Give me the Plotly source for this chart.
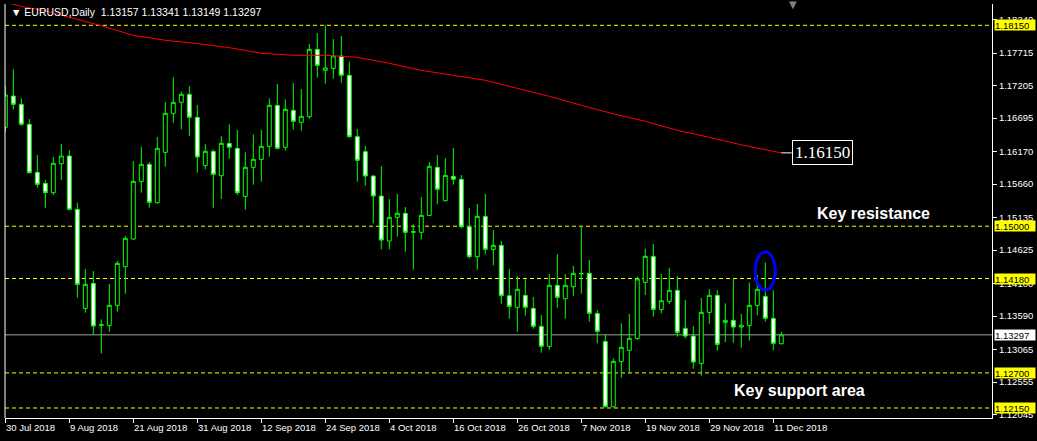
import numpy as np
import plotly.graph_objects as go

# ---------------- data ----------------
tick_labels = ["30 Jul 2018", "9 Aug 2018", "21 Aug 2018", "31 Aug 2018", "12 Sep 2018",
               "24 Sep 2018", "4 Oct 2018", "16 Oct 2018", "26 Oct 2018", "7 Nov 2018",
               "19 Nov 2018", "29 Nov 2018", "11 Dec 2018"]
tick_index = [0, 8, 16, 24, 32, 40, 48, 56, 64, 72, 80, 88, 96]

opens = [1.16550, 1.17041, 1.16911, 1.16597, 1.15845, 1.15672, 1.15526, 1.15980, 1.16101, 1.15264,
         1.13712, 1.14104, 1.13445, 1.13445, 1.13759, 1.14365, 1.14799, 1.15703, 1.15970, 1.15369,
         1.16158, 1.16770, 1.16942, 1.17068, 1.16707, 1.15954, 1.16174, 1.15792, 1.16299, 1.16221,
         1.15468, 1.15923, 1.16048, 1.16252, 1.16895, 1.16237, 1.16817, 1.16629, 1.16717, 1.17773,
         1.17444, 1.17475, 1.17669, 1.17366, 1.16404, 1.16169, 1.15787, 1.15473, 1.14768, 1.15139,
         1.15202, 1.14904, 1.14904, 1.15170, 1.15923, 1.15400, 1.15782, 1.15735, 1.14992, 1.14522,
         1.15154, 1.14637, 1.14700, 1.13910, 1.13728, 1.13916, 1.13712, 1.13430, 1.13116, 1.14073,
         1.13863, 1.14052, 1.14261, 1.14261, 1.13633, 1.13194, 1.12170, 1.12881, 1.13053, 1.13241,
         1.14119, 1.14527, 1.13696, 1.13822, 1.13994, 1.13398, 1.13278, 1.12849, 1.13649, 1.13916,
         1.13492, 1.13524, 1.13419, 1.13445, 1.13759, 1.13900, 1.13555, 1.13157]
highs = [1.17198, 1.17460, 1.17005, 1.16681, 1.16116, 1.15724, 1.16085, 1.16289, 1.16195, 1.15369,
         1.14329, 1.14297, 1.13539, 1.14093, 1.14454, 1.14846, 1.16022, 1.16247, 1.16007, 1.16399,
         1.16947, 1.17334, 1.17109, 1.17198, 1.16900, 1.16289, 1.16205, 1.16414, 1.16597, 1.16508,
         1.16158, 1.16440, 1.16508, 1.17005, 1.17230, 1.16989, 1.17245, 1.17151, 1.17857, 1.18029,
         1.18150, 1.17935, 1.17982, 1.17580, 1.16524, 1.16257, 1.15803, 1.15944, 1.15426, 1.15505,
         1.15301, 1.15029, 1.15458, 1.16007, 1.16116, 1.16069, 1.16226, 1.15803, 1.15285, 1.15348,
         1.15505, 1.14940, 1.14768, 1.14329, 1.14219, 1.14172, 1.13890, 1.13607, 1.14250, 1.14564,
         1.14250, 1.14376, 1.15000, 1.14470, 1.13686, 1.13309, 1.12928, 1.13477, 1.13623, 1.14208,
         1.14648, 1.14721, 1.14250, 1.14349, 1.14219, 1.13842, 1.13435, 1.13874, 1.14015, 1.13999,
         1.13790, 1.14177, 1.13623, 1.14119, 1.14235, 1.14433, 1.13994, 1.13341]
lows = [1.16482, 1.16832, 1.16576, 1.15829, 1.15604, 1.15290, 1.15489, 1.15724, 1.15254, 1.13879,
        1.13644, 1.13294, 1.13006, 1.13346, 1.13660, 1.13942, 1.14789, 1.15526, 1.15290, 1.15353,
        1.15933, 1.16623, 1.16519, 1.16414, 1.15839, 1.15892, 1.15290, 1.15426, 1.16059, 1.15489,
        1.15259, 1.15651, 1.15698, 1.16090, 1.16205, 1.16184, 1.16514, 1.16498, 1.16686, 1.17329,
        1.17235, 1.17313, 1.17251, 1.16388, 1.15698, 1.15635, 1.15045, 1.14637, 1.14637, 1.14836,
        1.14600, 1.14318, 1.14789, 1.15160, 1.15343, 1.15390, 1.15651, 1.14966, 1.14491, 1.14318,
        1.14559, 1.14386, 1.13785, 1.13550, 1.13346, 1.13597, 1.13393, 1.13017, 1.13064, 1.13722,
        1.13550, 1.13910, 1.13942, 1.13503, 1.13163, 1.12159, 1.12159, 1.12625, 1.12693, 1.13215,
        1.13921, 1.13581, 1.13633, 1.13780, 1.13268, 1.13241, 1.12766, 1.12656, 1.13471, 1.13048,
        1.13184, 1.13174, 1.13095, 1.13205, 1.13602, 1.13503, 1.13053, 1.13149]
closes = [1.17057, 1.16911, 1.16597, 1.15839, 1.15656, 1.15526, 1.15986, 1.16101, 1.15264, 1.14088,
          1.14088, 1.13435, 1.13456, 1.13759, 1.14417, 1.14810, 1.15703, 1.15970, 1.15374, 1.16221,
          1.16770, 1.16942, 1.17068, 1.16707, 1.16085, 1.16174, 1.15813, 1.16299, 1.16237, 1.15526,
          1.15923, 1.16048, 1.16252, 1.16895, 1.16221, 1.16832, 1.16644, 1.16723, 1.17773, 1.17522,
          1.17481, 1.17669, 1.17366, 1.16404, 1.16033, 1.15787, 1.15473, 1.14783, 1.15139, 1.15202,
          1.14904, 1.14914, 1.15170, 1.15939, 1.15578, 1.15797, 1.15735, 1.14992, 1.14522, 1.15154,
          1.14637, 1.14700, 1.13910, 1.13743, 1.14010, 1.13728, 1.13430, 1.13116, 1.14073, 1.13884,
          1.14073, 1.14261, 1.14255, 1.13633, 1.13351, 1.12170, 1.12881, 1.13100, 1.13241, 1.14172,
          1.14527, 1.13696, 1.13832, 1.13994, 1.13335, 1.13278, 1.12870, 1.13649, 1.13916, 1.13147,
          1.13524, 1.13419, 1.13445, 1.13759, 1.14010, 1.13555, 1.13163, 1.13297]

ma_index = [0, 2, 5, 8, 12, 16, 20, 24, 28, 32, 36, 40, 44, 48, 52, 56, 60, 64, 68, 72,
            76, 80, 84, 88, 92, 96, 97]
ma_values = [1.18514, 1.18448, 1.18377, 1.18275, 1.18142, 1.17993, 1.17915, 1.17863, 1.17800,
             1.17711, 1.17680, 1.17680, 1.17648, 1.17554, 1.17444, 1.17366, 1.17288, 1.17162,
             1.17037, 1.16896, 1.16762, 1.16645, 1.16504, 1.16394, 1.16276, 1.16174, 1.16150]

level_lines = [1.18150, 1.15000, 1.14180, 1.12700, 1.12150]
level_labels = ["1.18150", "1.15000", "1.14180", "1.12700", "1.12150"]
bid_price = 1.13297
bid_label = "1.13297"
ma_label = "1.16150"

axis_ticks = [1.18240, 1.17715, 1.17205, 1.16695, 1.16170, 1.15660, 1.15135,
              1.14625, 1.14100, 1.13590, 1.13065, 1.12555, 1.12045]
axis_ticktext = ["1.18240", "1.17715", "1.17205", "1.16695", "1.16170", "1.15660", "1.15135",
                 "1.14625", "1.14100", "1.13590", "1.13065", "1.12555", "1.12045"]

title_text = "EURUSD,Daily  1.13157 1.13341 1.13149 1.13297"

# ---------------- figure ----------------
x = np.arange(len(opens))
FONT = "Liberation Sans, Arial, sans-serif"
GREEN = "#00FF00"

fig = go.Figure()
fig.add_trace(go.Candlestick(
    x=x, open=opens, high=highs, low=lows, close=closes,
    increasing=dict(line=dict(color=GREEN, width=1), fillcolor="#000000"),
    decreasing=dict(line=dict(color=GREEN, width=1), fillcolor="#FFFFFF"),
    whiskerwidth=0, showlegend=False, hoverinfo="skip"))

fig.add_trace(go.Scatter(
    x=[x[i] for i in ma_index], y=ma_values, mode="lines",
    line=dict(color="#FF0000", width=1), showlegend=False, hoverinfo="skip"))

shapes = []
for lv in level_lines:
    shapes.append(dict(type="line", xref="paper", x0=0, x1=1, yref="y", y0=lv, y1=lv,
                       line=dict(color="#FFFF00", width=1, dash="4px,3px"), layer="below"))
shapes.append(dict(type="line", xref="paper", x0=0, x1=1, yref="y", y0=bid_price, y1=bid_price,
                   line=dict(color="#A0A0A0", width=1), layer="below"))
# blue ellipse
shapes.append(dict(type="circle", xref="x", yref="y", x0=93.75, x1=96.25, y0=1.13998, y1=1.14594,
                   line=dict(color="#0000FF", width=3)))
# connector from MA end to label
shapes.append(dict(type="line", xref="x", yref="y", x0=97, x1=98.3, y0=ma_values[-1], y1=ma_values[-1],
                   line=dict(color="#FFFFFF", width=1)))
# left frame
shapes.append(dict(type="line", xref="paper", yref="paper", x0=0, x1=0, y0=0, y1=1,
                   line=dict(color="#FFFFFF", width=1)))

annotations = []
for lv, lt in zip(level_lines, level_labels):
    annotations.append(dict(xref="paper", x=1.002, yref="y", y=lv, text=lt, showarrow=False,
                            xanchor="left", yanchor="middle", bgcolor="#FFFF00", width=40, height=10,
                            align="left", borderpad=0,
                            font=dict(family=FONT, size=9.5, color="#000000")))
annotations.append(dict(xref="paper", x=1.002, yref="y", y=bid_price, text=bid_label, showarrow=False,
                        xanchor="left", yanchor="middle", bgcolor="#FFFFFF", width=40, height=10,
                        align="left", borderpad=0,
                        font=dict(family=FONT, size=9.5, color="#000000")))
for ti, tl in zip(tick_index, tick_labels):
    annotations.append(dict(xref="x", x=ti, yref="paper", y=-0.005, text=tl, showarrow=False,
                            xanchor="left", yanchor="top", xshift=-1,
                            font=dict(family=FONT, size=9.5, color="#FFFFFF")))
annotations.append(dict(xref="x", x=98.3, yref="y", y=ma_values[-1], text=ma_label, showarrow=False,
                        xanchor="left", yanchor="middle", bgcolor="#000000", bordercolor="#FFFFFF",
                        borderwidth=1, borderpad=2,
                        font=dict(family="Liberation Serif, Times New Roman, serif", size=17,
                                  color="#FFFFFF")))
annotations.append(dict(xref="x", x=108.5, yref="y", y=1.15205, text="<b>Key resistance</b>",
                        showarrow=False, xanchor="center", yanchor="middle",
                        font=dict(family=FONT, size=16, color="#FFFFFF")))
annotations.append(dict(xref="x", x=99.3, yref="y", y=1.12432, text="<b>Key support area</b>",
                        showarrow=False, xanchor="center", yanchor="middle",
                        font=dict(family=FONT, size=16, color="#FFFFFF")))
annotations.append(dict(xref="paper", x=0.004, yref="paper", y=0.98, text="\u25BC " + title_text,
                        showarrow=False, xanchor="left", yanchor="middle",
                        font=dict(family=FONT, size=10.5, color="#FFFFFF")))
annotations.append(dict(xref="x", x=98.5, yref="paper", y=1.0, text="\u25BC", showarrow=False,
                        xanchor="center", yanchor="middle",
                        font=dict(family="DejaVu Sans", size=10, color="#808080")))

fig.update_layout(
    width=1037, height=441,
    margin=dict(l=5, r=45, t=4, b=23),
    paper_bgcolor="#000000", plot_bgcolor="#000000",
    shapes=shapes, annotations=annotations,
    xaxis=dict(range=[-0.04, 123.34], rangeslider=dict(visible=False), showgrid=False,
               zeroline=False, showline=True, linecolor="#FFFFFF", linewidth=1,
               tickmode="array", tickvals=tick_index, ticktext=[""] * len(tick_index),
               ticks="outside", ticklen=4, tickcolor="#FFFFFF"),
    yaxis=dict(range=[1.11993, 1.18484], side="right", showgrid=False, zeroline=False,
               showline=True, linecolor="#FFFFFF", linewidth=1,
               tickmode="array", tickvals=axis_ticks, ticktext=axis_ticktext,
               ticks="outside", ticklen=4, tickcolor="#FFFFFF",
               tickfont=dict(family=FONT, size=9.5, color="#FFFFFF")),
    hovermode=False,
)

fig.write_html("out.html", config={"displayModeBar": False},
               post_script="document.body.style.margin='0';document.body.style.background='#000';")
